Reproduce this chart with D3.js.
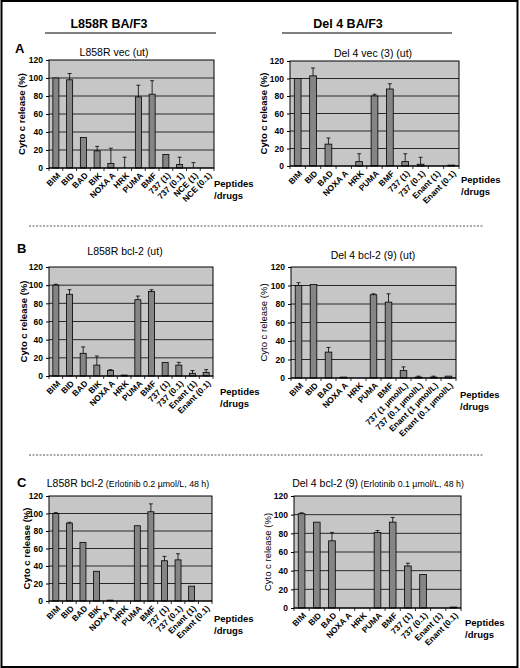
<!DOCTYPE html>
<html>
<head>
<meta charset="utf-8">
<script src="https://cdn.jsdelivr.net/npm/d3@7"></script>
<style>
  body { margin: 0; background: #fff; }
  text { font-family: "Liberation Sans", Arial, sans-serif; }
</style>
</head>
<body>
<div id="fig"></div>
<script>
// categories
const catsAL = ["BIM", "BID", "BAD", "BIK", "NOXA A", "HRK", "PUMA", "BMF", "737 (1)", "737 (0.1)", "NCE (1)", "NCE (0.1)"];
const catsAR = ["BIM", "BID", "BAD", "NOXA A", "HRK", "PUMA", "BMF", "737 (1)", "737 (0.1)", "Enant (1)", "Enant (0.1)"];
const catsBL = ["BIM", "BID", "BAD", "BIK", "NOXA A", "HRK", "PUMA", "BMF", "737 (1)", "737 (0.1)", "Enant (1)", "Enant (0.1)"];
const catsBR = ["BIM", "BID", "BAD", "NOXA A", "HRK", "PUMA", "BMF", "737 (1 µmol/L)", "737 (0.1 µmol/L)", "Enant (1 µmol/L)", "Enant (0.1 µmol/L)"];
const catsCL = ["BIM", "BID", "BAD", "BIK", "NOXA A", "HRK", "PUMA", "BMF", "737 (1)", "737 (0.1)", "Enant (1)", "Enant (0.1)"];
const catsCR = ["BIM", "BID", "BAD", "NOXA A", "HRK", "PUMA", "BMF", "737 (1)", "737 (0.1)", "Enant (1)", "Enant (0.1)"];

// cyto c release (%) and upper error
const valsAL = [100, 98, 34, 19, 5, 0, 79, 82, 15, 4, 0, 0];
const errAL  = [0, 7, 0, 5, 17, 12, 13, 15, 0, 8, 6, 0];
const valsAR = [100, 103, 25, 0, 5, 80, 88, 5, 2, 0, 1];
const errAR  = [0, 9, 7, 0, 9, 2, 6, 9, 8, 0, 0];
const valsBL = [100, 90, 25, 12, 6, 1, 84, 93, 15, 12, 3, 4];
const errBL  = [1, 5, 7, 10, 1, 0, 4, 2, 0, 3, 3, 3];
const valsBR = [100, 101, 28, 1, 0, 90, 82, 8, 1, 1, 2];
const errBR  = [3, 0, 5, 0, 0, 1, 9, 4, 1, 1, 0];
const valsCL = [100, 89, 67, 34, 1, 0, 86, 102, 46, 47, 17, 0];
const errCL  = [1, 1, 0, 0, 0, 0, 0, 9, 5, 7, 0, 0];
const valsCR = [101, 92, 72, 0, 0, 81, 92, 45, 36, 0, 1];
const errCR  = [1, 0, 9, 0, 0, 2, 5, 3, 0, 0, 0];

const yTicks = [0, 20, 40, 60, 80, 100, 120];

const W = 520, H = 668;
const svg = d3.select("#fig").append("svg")
  .attr("width", W).attr("height", H);

// outer frame
svg.append("rect").attr("x", 1.5).attr("y", 1).attr("width", 516).attr("height", 666)
  .attr("fill", "none").attr("stroke", "#000").attr("stroke-width", 2);

// column headers
[{t: "L858R BA/F3", x: 109, lx0: 45, lx1: 216}, {t: "Del 4 BA/F3", x: 348, lx0: 282, lx1: 452}].forEach(h => {
  svg.append("text").attr("x", h.x).attr("y", 28).attr("text-anchor", "middle")
    .attr("font-size", 12.5).attr("font-weight", "bold").text(h.t);
  svg.append("line").attr("x1", h.lx0).attr("x2", h.lx1).attr("y1", 33).attr("y2", 33)
    .attr("stroke", "#000").attr("stroke-width", 1);
});

// dashed separators
[226, 455].forEach(y => {
  svg.append("line").attr("x1", 29).attr("x2", 483).attr("y1", y).attr("y2", y)
    .attr("stroke", "#555").attr("stroke-width", 1).attr("stroke-dasharray", "2,1.5");
});

// panel letters
[["A", 15, 53], ["B", 17, 253], ["C", 17, 487]].forEach(l => {
  svg.append("text").attr("x", l[1]).attr("y", l[2]).attr("font-size", 13)
    .attr("font-weight", "bold").text(l[0]);
});

function drawPanel(p) {
  const g = svg.append("g");

  const x = d3.scaleBand().domain(p.cats).range([p.x0, p.x1]).paddingInner(0).paddingOuter(0);
  const y = d3.scaleLinear().domain([0, 120]).range([p.yb, p.yt]);
  const bw = x.bandwidth() * 0.44;

  // plot background
  g.append("rect").attr("x", p.x0).attr("y", p.yt)
    .attr("width", p.x1 - p.x0).attr("height", p.yb - p.yt)
    .attr("fill", "#c6c6c6");

  // gridlines
  g.selectAll(".grid").data(yTicks.slice(1, -1)).enter().append("line")
    .attr("x1", p.x0).attr("x2", p.x1)
    .attr("y1", d => y(d)).attr("y2", d => y(d))
    .attr("stroke", "#000").attr("stroke-width", 0.8);

  // bars
  const data = p.cats.map((c, i) => ({c: c, v: p.vals[i], e: p.errs[i]}));
  g.selectAll(".bar").data(data.filter(d => d.v > 0)).enter().append("rect")
    .attr("x", d => x(d.c) + (x.bandwidth() - bw) / 2)
    .attr("y", d => y(d.v))
    .attr("width", bw)
    .attr("height", d => y(0) - y(d.v))
    .attr("fill", "#858585").attr("stroke", "#000").attr("stroke-width", 0.8);

  // error bars (upper only)
  const eb = g.selectAll(".err").data(data.filter(d => d.e > 0)).enter().append("g");
  eb.append("line")
    .attr("x1", d => x(d.c) + x.bandwidth() / 2).attr("x2", d => x(d.c) + x.bandwidth() / 2)
    .attr("y1", d => y(d.v)).attr("y2", d => y(d.v + d.e))
    .attr("stroke", "#000").attr("stroke-width", 0.8);
  eb.append("line")
    .attr("x1", d => x(d.c) + x.bandwidth() / 2 - 2).attr("x2", d => x(d.c) + x.bandwidth() / 2 + 2)
    .attr("y1", d => y(d.v + d.e)).attr("y2", d => y(d.v + d.e))
    .attr("stroke", "#000").attr("stroke-width", 0.8);

  // frame
  g.append("rect").attr("x", p.x0).attr("y", p.yt)
    .attr("width", p.x1 - p.x0).attr("height", p.yb - p.yt)
    .attr("fill", "none").attr("stroke", "#000").attr("stroke-width", 1);

  // y axis
  const yAx = g.append("g").attr("transform", "translate(" + p.x0 + ",0)")
    .call(d3.axisLeft(y).tickValues(yTicks).tickSize(3).tickPadding(3));
  yAx.select(".domain").remove();
  yAx.selectAll("text").attr("font-size", 8.5).attr("font-weight", "bold")
    .attr("font-family", "Liberation Sans, Arial, sans-serif");

  // x axis: ticks at band edges
  g.append("line").attr("x1", p.x0).attr("x2", p.x1).attr("y1", p.yb).attr("y2", p.yb)
    .attr("stroke", "#000").attr("stroke-width", 1.2);
  const edges = p.cats.map(c => x(c)).concat([p.x1]);
  g.selectAll(".xt").data(edges).enter().append("line")
    .attr("x1", d => d).attr("x2", d => d)
    .attr("y1", p.yb).attr("y2", p.yb + 3)
    .attr("stroke", "#000").attr("stroke-width", 0.8);

  g.selectAll(".xl").data(p.cats).enter().append("text")
    .attr("transform", d => "translate(" + (x(d) + x.bandwidth() / 2 + 3) + "," + (p.yb + 6) + ") rotate(-45)")
    .attr("text-anchor", "end").attr("dy", "0.35em")
    .attr("font-size", 8.4).attr("font-weight", "bold").text(d => d);

  // y label
  g.append("text")
    .attr("transform", "translate(" + p.ylx + "," + ((p.yt + p.yb) / 2) + ") rotate(-90)")
    .attr("text-anchor", "middle").attr("font-size", 9.5)
    .attr("font-weight", p.ylBold ? "bold" : "normal")
    .text("Cyto c release (%)");

  // title
  const t = g.append("text").attr("x", p.tx).attr("y", p.ty)
    .attr("text-anchor", "middle").attr("font-size", 10.5);
  t.append("tspan").text(p.title);
  if (p.sub) t.append("tspan").attr("font-size", 8.8).text(" " + p.sub);

  // peptides/drugs
  g.append("text").attr("x", p.px).attr("y", p.py).attr("font-size", 9.5)
    .attr("font-weight", "bold").text("Peptides");
  g.append("text").attr("x", p.px).attr("y", p.py + 12).attr("font-size", 9.5)
    .attr("font-weight", "bold").text("/drugs");
}

const panels = [
  {cats: catsAL, vals: valsAL, errs: errAL, x0: 49, x1: 214, yt: 60, yb: 168,
   ylx: 25, ylBold: true, title: "L858R vec (ut)", tx: 114, ty: 56, px: 214, py: 187},
  {cats: catsAR, vals: valsAR, errs: errAR, x0: 290, x1: 459, yt: 61, yb: 166,
   ylx: 267, ylBold: true, title: "Del 4 vec (3) (ut)", tx: 373, ty: 57, px: 461, py: 183},
  {cats: catsBL, vals: valsBL, errs: errBL, x0: 49, x1: 213, yt: 267, yb: 376,
   ylx: 27, ylBold: true, title: "L858R bcl-2 (ut)", tx: 125, ty: 255, px: 220, py: 395},
  {cats: catsBR, vals: valsBR, errs: errBR, x0: 291, x1: 456, yt: 267, yb: 378,
   ylx: 267, ylBold: false, title: "Del 4 bcl-2 (9) (ut)", tx: 373, ty: 259, px: 460, py: 398},
  {cats: catsCL, vals: valsCL, errs: errCL, x0: 49, x1: 212, yt: 496, yb: 601,
   ylx: 30, ylBold: true, title: "L858R bcl-2", sub: "(Erlotinib 0.2 µmol/L, 48 h)", tx: 128, ty: 487, px: 214, py: 622},
  {cats: catsCR, vals: valsCR, errs: errCR, x0: 294, x1: 461, yt: 496, yb: 608,
   ylx: 271, ylBold: false, title: "Del 4 bcl-2 (9)", sub: "(Erlotinib 0.1 µmol/L, 48 h)", tx: 378, ty: 487, px: 465, py: 626}
];

panels.forEach(drawPanel);
</script>
</body>
</html>
